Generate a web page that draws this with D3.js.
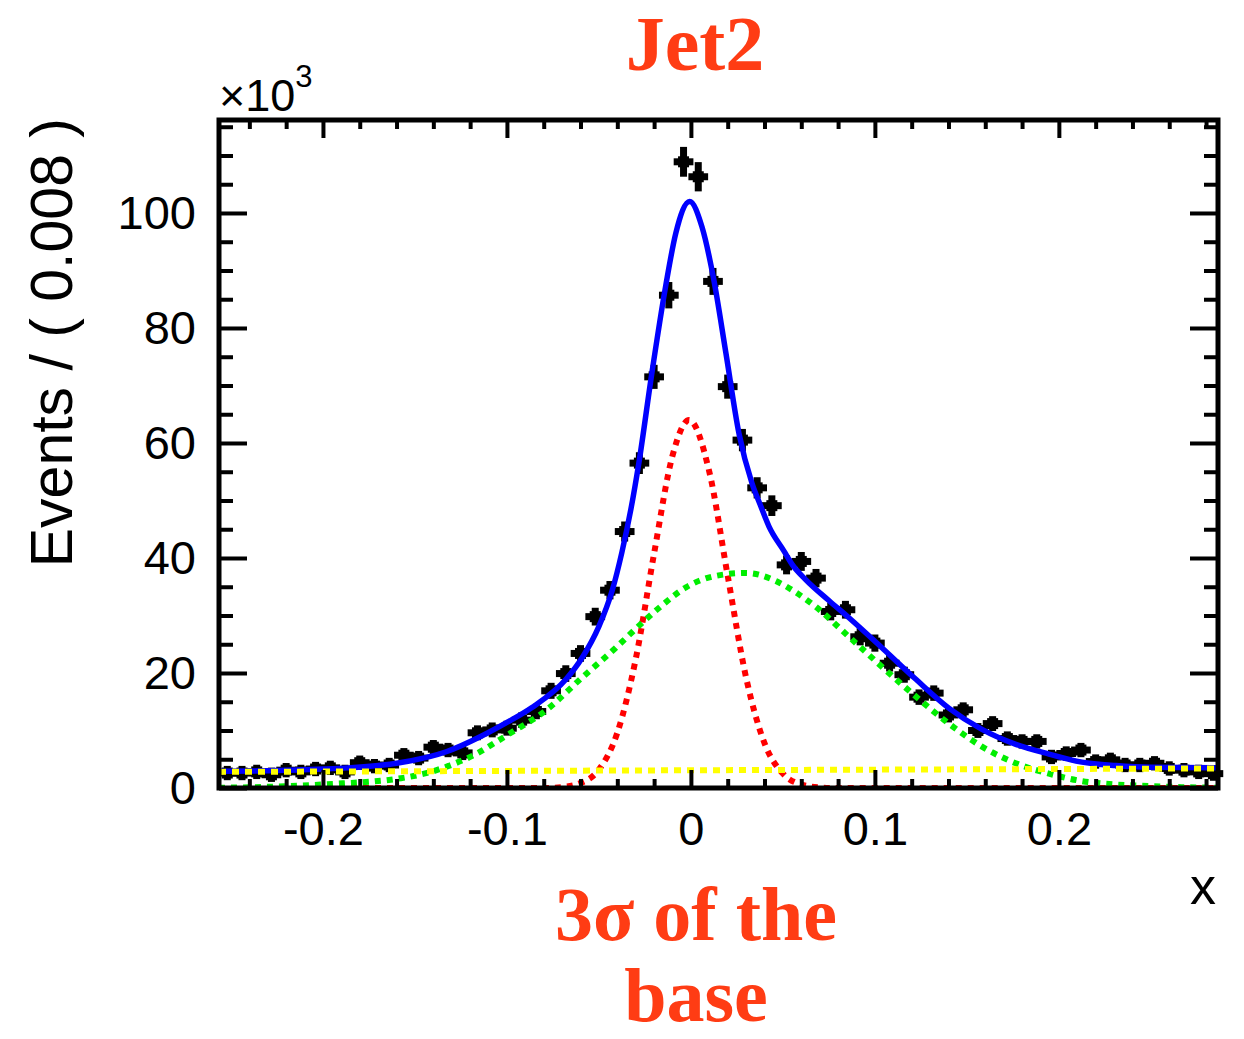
<!DOCTYPE html>
<html><head><meta charset="utf-8">
<script src="https://cdn.jsdelivr.net/npm/d3@7"></script>
<style>body{margin:0;background:#fff}</style>
</head><body>
<svg id="c" width="1244" height="1039"></svg>
<script>
// ---- data (values in units of 10^3 events) ----
const binLow = -0.256;
const binWidth = 0.008;
const counts = [
  2.6, 2.6, 2.8, 2.3, 3.1, 2.8, 3.3, 3.5, 2.8, 4.4,
  3.8, 4.0, 5.7, 5.2, 7.1, 6.6, 6.1, 9.6, 10.1, 10.4,
  11.8, 13.3, 16.9, 19.9, 23.4, 29.8, 34.4, 44.6, 56.5, 71.5,
  85.7, 108.9, 106.3, 88.1, 69.8, 60.5, 52.2, 49.1, 38.8, 39.4,
  36.5, 30.7, 31.0, 26.3, 25.2, 21.7, 19.7, 15.8, 16.5, 12.7,
  13.6, 10.0, 11.2, 8.6, 8.1, 8.1, 5.4, 6.0, 6.6, 4.6,
  4.9, 4.0, 4.0, 4.3, 3.4, 3.1, 2.8, 2.5
];
const errors = [
  0.2, 0.2, 0.2, 0.2, 0.2, 0.2, 0.2, 0.2, 0.2, 0.2,
  0.2, 0.2, 0.2, 0.2, 0.2, 0.2, 0.2, 0.25, 0.25, 0.25,
  0.3, 0.3, 0.35, 0.4, 0.4, 0.5, 0.55, 0.7, 0.85, 1.05,
  1.25, 1.55, 1.5, 1.3, 1.05, 0.9, 0.8, 0.75, 0.6, 0.6,
  0.55, 0.5, 0.5, 0.45, 0.45, 0.4, 0.35, 0.3, 0.3, 0.25,
  0.25, 0.25, 0.25, 0.2, 0.2, 0.2, 0.2, 0.2, 0.2, 0.2,
  0.2, 0.2, 0.2, 0.2, 0.2, 0.2, 0.2, 0.2
];
const totalFit = [
  [-0.2565, 2.9], [-0.23, 3.0], [-0.20, 3.3], [-0.187, 3.5], [-0.16, 4.3],
  [-0.133, 6.3], [-0.114, 9.0], [-0.1, 11.4], [-0.0864, 14.0], [-0.0679, 18.9],
  [-0.0592, 22.6], [-0.05, 28.1], [-0.0429, 34.2], [-0.0375, 41.0], [-0.0326, 48.5],
  [-0.0283, 56.5], [-0.0212, 72.2], [-0.0136, 87.5], [-0.0082, 96.5], [-0.0007, 102.0],
  [0.006, 97.6], [0.0125, 88.3], [0.019, 75.7], [0.0261, 61.7], [0.0332, 53.0],
  [0.038, 49.0], [0.0424, 45.5], [0.0506, 41.2], [0.055, 38.9], [0.0625, 36.2],
  [0.075, 32.6], [0.0859, 29.6], [0.1038, 24.4], [0.1223, 18.9], [0.1402, 13.9],
  [0.1582, 10.2], [0.1766, 7.6], [0.1946, 5.9], [0.2125, 4.5], [0.231, 3.9],
  [0.25, 3.6], [0.2865, 3.5]
];
const signalFit = [
  [-0.2565, 0], [-0.08, 0], [-0.07, 0.17], [-0.06, 0.85], [-0.05, 3.2],
  [-0.04, 9.6], [-0.03, 22.4], [-0.02, 40.8], [-0.01, 57.8], [-0.001, 64.0],
  [0.01, 55.0], [0.02, 36.9], [0.03, 19.2], [0.04, 7.8], [0.05, 2.5],
  [0.06, 0.6], [0.07, 0.1], [0.08, 0], [0.2865, 0]
];
const broadFit = [
  [-0.2565, 0.05], [-0.23, 0.2], [-0.2065, 0.5], [-0.187, 0.85], [-0.174, 1.1],
  [-0.1576, 1.7], [-0.1413, 2.8], [-0.1288, 4.2], [-0.1163, 6.0], [-0.1054, 8.1],
  [-0.0978, 9.6], [-0.0788, 13.5], [-0.0592, 19.2], [-0.0408, 24.4], [-0.0266, 28.7],
  [-0.0174, 31.3], [-0.0027, 34.9], [0.0136, 36.9], [0.0299, 37.4], [0.0462, 36.0],
  [0.0571, 34.0], [0.0679, 31.5], [0.0859, 26.3], [0.1038, 21.1], [0.1223, 15.9],
  [0.1402, 11.2], [0.1582, 7.2], [0.1766, 4.3], [0.1946, 2.5], [0.2125, 1.2],
  [0.231, 0.6], [0.2489, 0.35], [0.2668, 0.15], [0.2865, 0.05]
];
const bkgFit = [[-0.2565, 2.8], [0.2865, 3.4]];
const xTicks = [-0.2, -0.1, 0, 0.1, 0.2];
const xTickLabels = ["-0.2", "-0.1", "0", "0.1", "0.2"];
const xMinorTicks = [-0.24,-0.22,-0.18,-0.16,-0.14,-0.12,-0.08,-0.06,-0.04,-0.02,0.02,0.04,0.06,0.08,0.12,0.14,0.16,0.18,0.22,0.24,0.26,0.28];
const yTicks = [0, 20, 40, 60, 80, 100];
const yTickLabels = ["0", "20", "40", "60", "80", "100"];
const yMinorTicks = [5,10,15,25,30,35,45,50,55,65,70,75,85,90,95,105,110,115];
const titleTop = "Jet2";
const titleBottom = ["3\u03C3 of the", "base"];
const yTitle = "Events / ( 0.008 )";
const xTitle = "x";

// ---- layout ----
const P = {left: 219, right: 1218, top: 120, bottom: 788};
const svg = d3.select("#c");
const x = d3.scaleLinear().domain([-0.2565, 0.2865]).range([P.left, P.right]);
const y = d3.scaleLinear().domain([0, 116.17]).range([P.bottom, P.top]);
const sans = "'Liberation Sans', Arial, Helvetica, sans-serif";
const serif = "'Liberation Serif', 'Times New Roman', serif";
const titleColor = "#ff3c14";

svg.append("rect").attr("width", 1244).attr("height", 1039).attr("fill", "#fff");

svg.append("clipPath").attr("id", "clip").append("rect")
  .attr("x", P.left).attr("y", P.top).attr("width", P.right - P.left).attr("height", P.bottom - P.top);

// ---- data points ----
const pts = svg.append("g").attr("fill", "#000");
counts.forEach((v, i) => {
  const c = binLow + binWidth * (i + 0.5);
  const cx = x(c), cy = y(v);
  const x0 = x(c - binWidth / 2) - 2.5, x1 = x(c + binWidth / 2) + 2.5;
  const ep = y(0) - y(errors[i]);
  const g = pts.append("g");
  g.append("rect").attr("x", x0).attr("y", cy - 3.5).attr("width", x1 - x0).attr("height", 7);
  g.append("rect").attr("x", cx - 3.5).attr("y", cy - 6 - ep).attr("width", 7).attr("height", 12 + 2 * ep);
  g.append("rect").attr("x", cx - 5.5).attr("y", cy - 5.5).attr("width", 11).attr("height", 11);
});

// ---- fit curves ----
const line = d3.line().x(d => x(d[0])).y(d => y(d[1])).curve(d3.curveMonotoneX);
const curves = svg.append("g").attr("clip-path", "url(#clip)").attr("fill", "none");
curves.append("path").attr("d", line(totalFit)).attr("stroke", "#0000ff").attr("stroke-width", 5.5);
curves.append("path").attr("d", line(signalFit)).attr("stroke", "#ff0000").attr("stroke-width", 6).attr("stroke-dasharray", "6,6");
curves.append("path").attr("d", line(broadFit)).attr("stroke", "#00ee00").attr("stroke-width", 6).attr("stroke-dasharray", "6,6");
curves.append("path").attr("d", line(bkgFit)).attr("stroke", "#ffff00").attr("stroke-width", 6).attr("stroke-dasharray", "7,6");

// ---- axes (ticks on all four sides, pointing inward) ----
function styleAxis(g) {
  g.select(".domain").remove();
  g.selectAll(".tick line").attr("stroke", "#000").attr("stroke-width", 4);
  g.selectAll("text").attr("font-family", sans).attr("font-size", 47).attr("fill", "#000");
}
svg.append("g").attr("transform", `translate(0,${P.bottom})`)
  .call(d3.axisBottom(x).tickValues(xTicks).tickSize(-18).tickPadding(24).tickFormat((d, i) => xTickLabels[i])).call(styleAxis);
svg.append("g").attr("transform", `translate(0,${P.bottom})`)
  .call(d3.axisBottom(x).tickValues(xMinorTicks).tickSize(-9).tickFormat("")).call(styleAxis);
svg.append("g").attr("transform", `translate(0,${P.top})`)
  .call(d3.axisTop(x).tickValues(xTicks).tickSize(-18).tickFormat("")).call(styleAxis);
svg.append("g").attr("transform", `translate(0,${P.top})`)
  .call(d3.axisTop(x).tickValues(xMinorTicks).tickSize(-9).tickFormat("")).call(styleAxis);
svg.append("g").attr("transform", `translate(${P.left},0)`)
  .call(d3.axisLeft(y).tickValues(yTicks).tickSize(-28).tickPadding(23).tickFormat((d, i) => yTickLabels[i])).call(styleAxis);
svg.append("g").attr("transform", `translate(${P.left},0)`)
  .call(d3.axisLeft(y).tickValues(yMinorTicks).tickSize(-14).tickFormat("")).call(styleAxis);
svg.append("g").attr("transform", `translate(${P.right},0)`)
  .call(d3.axisRight(y).tickValues(yTicks).tickSize(-28).tickFormat("")).call(styleAxis);
svg.append("g").attr("transform", `translate(${P.right},0)`)
  .call(d3.axisRight(y).tickValues(yMinorTicks).tickSize(-14).tickFormat("")).call(styleAxis);

// frame
svg.append("rect").attr("x", P.left).attr("y", P.top).attr("width", P.right - P.left).attr("height", P.bottom - P.top)
  .attr("fill", "none").attr("stroke", "#000").attr("stroke-width", 5);

// ---- texts ----
const mult = svg.append("text").attr("x", 219).attr("y", 111).attr("font-family", sans).attr("font-size", 45).attr("fill", "#000");
mult.append("tspan").text("\u00D710");
mult.append("tspan").attr("dy", -24).attr("font-size", 31).text("3");

svg.append("text").attr("transform", `translate(72,${P.top - 2}) rotate(-90)`)
  .attr("text-anchor", "end").attr("font-family", sans).attr("font-size", 59).attr("fill", "#000").text(yTitle);

svg.append("text").attr("x", P.right - 2).attr("y", 904).attr("text-anchor", "end")
  .attr("font-family", sans).attr("font-size", 52).attr("fill", "#000").text(xTitle);

svg.append("text").attr("x", 695).attr("y", 70).attr("text-anchor", "middle")
  .attr("font-family", serif).attr("font-weight", "bold").attr("font-size", 78).attr("fill", titleColor).text(titleTop);
titleBottom.forEach((t, i) => {
  svg.append("text").attr("x", 696).attr("y", 940 + i * 81).attr("text-anchor", "middle")
    .attr("font-family", serif).attr("font-weight", "bold").attr("font-size", 76).attr("fill", titleColor).text(t);
});
</script>
</body></html>
